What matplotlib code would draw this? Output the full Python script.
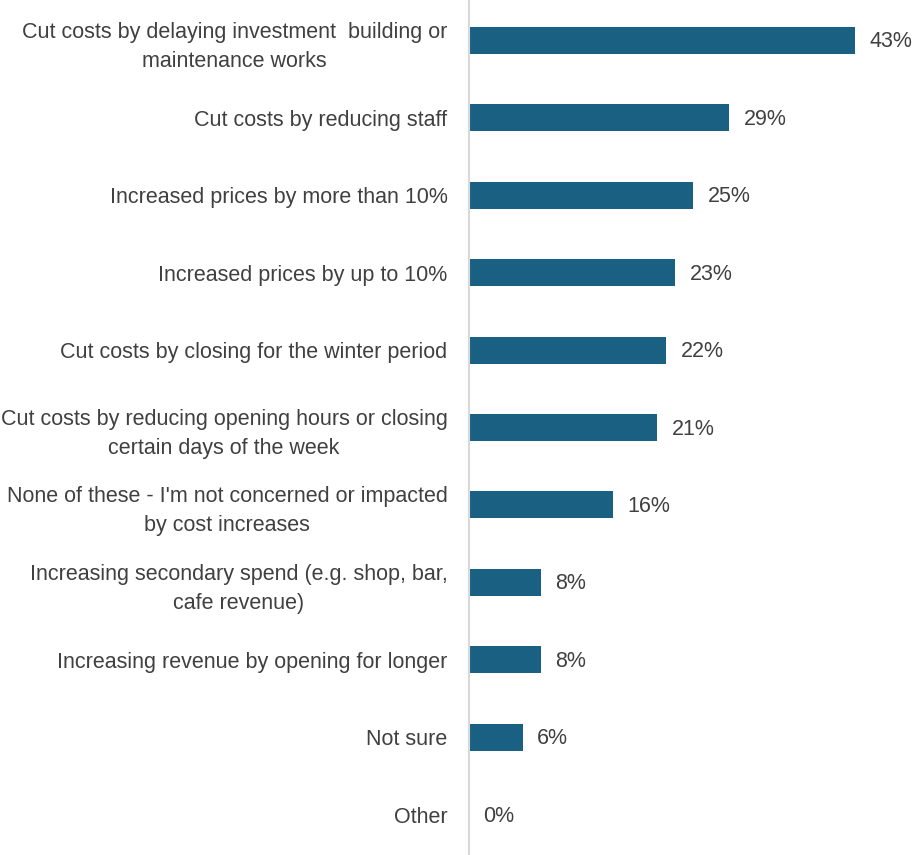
import matplotlib.pyplot as plt

categories = [
    "Cut costs by delaying investment  building or\nmaintenance works",
    "Cut costs by reducing staff",
    "Increased prices by more than 10%",
    "Increased prices by up to 10%",
    "Cut costs by closing for the winter period",
    "Cut costs by reducing opening hours or closing\ncertain days of the week",
    "None of these - I'm not concerned or impacted\nby cost increases",
    "Increasing secondary spend (e.g. shop, bar,\ncafe revenue)",
    "Increasing revenue by opening for longer",
    "Not sure",
    "Other",
]
values = [43, 29, 25, 23, 22, 21, 16, 8, 8, 6, 0]

bar_color = "#1a6083"
text_color = "#404040"

plt.rcParams['font.family'] = ['Liberation Sans', 'DejaVu Sans']

fig = plt.figure(figsize=(9.15, 8.55), dpi=100)
ax = fig.add_axes([469 / 915, 0.0, 1 - 469 / 915, 1.0])

y = list(range(len(categories)))
ax.barh(y, values, height=0.35, color=bar_color)

# percentage labels just past the end of each bar
for yi, v in zip(y, values):
    ax.text(v + 1.6, yi + 0.02, f"{v}%", va='center', ha='left',
            fontsize=15.5, color=text_color)

ax.set_yticks(y)
ax.set_yticklabels(categories, fontsize=15.5, color=text_color,
                   ha='right', linespacing=1.5)
for lab in ax.get_yticklabels():
    lab.set_multialignment('center')
ax.tick_params(axis='y', length=0, pad=15.5)
ax.set_xticks([])

ax.set_xlim(0, 49.7)
ax.set_ylim(10.52, -0.52)

for side in ['top', 'right', 'bottom']:
    ax.spines[side].set_visible(False)
ax.spines['left'].set_color('#d9d9d9')
ax.spines['left'].set_linewidth(1.5)

fig.savefig("out.png", dpi=100)
